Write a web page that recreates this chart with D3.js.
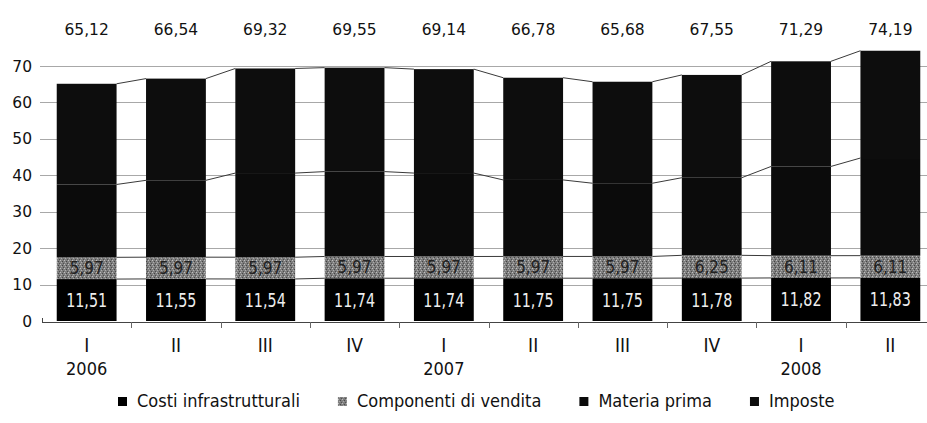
<!DOCTYPE html>
<html>
<head>
<meta charset="utf-8">
<script src="https://cdn.jsdelivr.net/npm/d3@7/dist/d3.min.js"></script>
<style>
  body { margin: 0; background: #fff; }
  svg { display: block; }
  .num { font-family: 'DejaVu Sans', sans-serif; }
  .narrow { font-family: 'DejaVu Sans Condensed', sans-serif; }
</style>
</head>
<body>
<svg id="chart"></svg>
<script>
// quarters and years on the x axis
let quarters = ['I', 'II', 'III', 'IV', 'I', 'II', 'III', 'IV', 'I', 'II']
let years = ['2006', '', '', '', '2007', '', '', '', '2008', '']

// values per quarter
let costi = [11.51, 11.55, 11.54, 11.74, 11.74, 11.75, 11.75, 11.78, 11.82, 11.83]
let componenti = [5.97, 5.97, 5.97, 5.97, 5.97, 5.97, 5.97, 6.25, 6.11, 6.11]
let materia = [20.0, 21.1, 23.1, 23.3, 22.9, 21.0, 20.1, 21.3, 24.5, 26.8]
let imposte = [27.6, 27.9, 28.7, 28.5, 28.5, 28.1, 27.9, 28.3, 28.9, 29.5]
let totals = [65.12, 66.54, 69.32, 69.55, 69.14, 66.78, 65.68, 67.55, 71.29, 74.19]

let seriesNames = ['Costi infrastrutturali', 'Componenti di vendita', 'Materia prima', 'Imposte']
let yTicks = [0, 10, 20, 30, 40, 50, 60, 70]

let width = 927
let height = 423

let svg = d3.select('svg#chart').attr('width', width).attr('height', height)

// grainy grey fill for the selling component
let defs = svg.append('defs')
let pat = defs
  .append('pattern')
  .attr('id', 'grain')
  .attr('width', 4)
  .attr('height', 4)
  .attr('patternUnits', 'userSpaceOnUse')
pat.append('rect').attr('width', 4).attr('height', 4).attr('fill', '#7e7e7e')
pat.append('rect').attr('x', 0).attr('y', 0).attr('width', 1).attr('height', 1).attr('fill', '#c0c0c0')
pat.append('rect').attr('x', 2).attr('y', 1).attr('width', 1).attr('height', 1).attr('fill', '#444')
pat.append('rect').attr('x', 1).attr('y', 2).attr('width', 1).attr('height', 1).attr('fill', '#adadad')
pat.append('rect').attr('x', 3).attr('y', 3).attr('width', 1).attr('height', 1).attr('fill', '#4e4e4e')

let fills = ['#000', 'url(#grain)', '#0b0b0b', '#0d0d0d']

// table for d3.stack
let rows = quarters.map((q, i) => ({
  i: i,
  'Costi infrastrutturali': costi[i],
  'Componenti di vendita': componenti[i],
  'Materia prima': materia[i],
  Imposte: imposte[i],
}))
let stacked = d3.stack().keys(seriesNames)(rows)

let xScale = d3
  .scaleBand()
  .domain(d3.range(quarters.length))
  .range([42, 935])
  .paddingInner(0.33)
  .paddingOuter(0.165)

let yScale = d3.scaleLinear().domain([0, 70]).range([321, 66])

// gridlines
svg
  .append('g')
  .selectAll('line')
  .data(yTicks.filter(d => d > 0))
  .join('line')
  .attr('x1', 40)
  .attr('x2', width)
  .attr('y1', d => Math.round(yScale(d)) + 0.5)
  .attr('y2', d => Math.round(yScale(d)) + 0.5)
  .attr('stroke', '#a8a8a8')
  .attr('stroke-width', 1)

// y tick labels
svg
  .append('g')
  .selectAll('text')
  .data(yTicks)
  .join('text')
  .attr('class', 'num')
  .attr('x', 32)
  .attr('y', d => yScale(d) + 5.5)
  .attr('text-anchor', 'end')
  .attr('font-size', 15.5)
  .attr('fill', '#111')
  .text(d => d)

// connecting lines between neighbouring bars at each stack boundary
let levels = stacked.map(s => s.map(d => d[1]))
levels[3] = totals
let connectors = []
levels.forEach(lv => {
  for (let i = 0; i < lv.length - 1; i++) {
    connectors.push({ i: i, a: lv[i], b: lv[i + 1] })
  }
})
svg
  .append('g')
  .selectAll('line')
  .data(connectors)
  .join('line')
  .attr('x1', d => xScale(d.i) + xScale.bandwidth())
  .attr('x2', d => xScale(d.i + 1))
  .attr('y1', d => yScale(d.a))
  .attr('y2', d => yScale(d.b))
  .attr('stroke', '#3a3a3a')
  .attr('stroke-width', 1)

// the stacked bars
svg
  .append('g')
  .selectAll('g')
  .data(stacked)
  .join('g')
  .attr('fill', (d, k) => fills[k])
  .selectAll('rect')
  .data((s, k) => s.map(d => ({ d: d, k: k })))
  .join('rect')
  .attr('x', e => xScale(e.d.data.i))
  .attr('width', xScale.bandwidth())
  .attr('y', e => (e.k == 3 ? yScale(totals[e.d.data.i]) : yScale(e.d[1])))
  .attr('height', e =>
    e.k == 3 ? yScale(e.d[0]) - yScale(totals[e.d.data.i]) : yScale(e.d[0]) - yScale(e.d[1])
  )

let fmt = v => v.toFixed(2).replace('.', ',')

// labels in the bottom two segments
svg
  .append('g')
  .selectAll('text')
  .data(stacked[0])
  .join('text')
  .attr('class', 'narrow')
  .attr('x', d => xScale(d.data.i) + xScale.bandwidth() / 2)
  .attr('y', d => (yScale(d[0]) + yScale(d[1])) / 2 + 7)
  .attr('text-anchor', 'middle')
  .attr('font-size', 19)
  .attr('textLength', 41)
  .attr('lengthAdjust', 'spacingAndGlyphs')
  .attr('fill', '#eee')
  .text(d => fmt(d[1] - d[0]))

svg
  .append('g')
  .selectAll('text')
  .data(stacked[1])
  .join('text')
  .attr('class', 'narrow')
  .attr('x', d => xScale(d.data.i) + xScale.bandwidth() / 2)
  .attr('y', d => (yScale(d[0]) + yScale(d[1])) / 2 + 6)
  .attr('text-anchor', 'middle')
  .attr('font-size', 17)
  .attr('textLength', 34)
  .attr('lengthAdjust', 'spacingAndGlyphs')
  .attr('fill', '#222')
  .text(d => fmt(d[1] - d[0]))

// totals above the chart
svg
  .append('g')
  .selectAll('text')
  .data(totals)
  .join('text')
  .attr('class', 'num')
  .attr('x', (d, i) => xScale(i) + xScale.bandwidth() / 2)
  .attr('y', 34.5)
  .attr('text-anchor', 'middle')
  .attr('font-size', 15.5)
  .attr('fill', '#111')
  .text(d => fmt(d))

// x axis
let xAxisG = svg.append('g')
xAxisG
  .append('line')
  .attr('x1', 42)
  .attr('x2', width)
  .attr('y1', 322.5)
  .attr('y2', 322.5)
  .attr('stroke', '#444')
xAxisG
  .append('line')
  .attr('x1', 42.5)
  .attr('x2', 42.5)
  .attr('y1', 318)
  .attr('y2', 323)
  .attr('stroke', '#444')
xAxisG
  .selectAll('line.tick')
  .data(d3.range(1, quarters.length))
  .join('line')
  .attr('class', 'tick')
  .attr('x1', i => Math.round(xScale(i) - (xScale.step() - xScale.bandwidth()) / 2) + 0.5)
  .attr('x2', i => Math.round(xScale(i) - (xScale.step() - xScale.bandwidth()) / 2) + 0.5)
  .attr('y1', 322)
  .attr('y2', 328)
  .attr('stroke', '#666')

xAxisG
  .selectAll('text.q')
  .data(quarters)
  .join('text')
  .attr('class', 'q narrow')
  .attr('x', (d, i) => xScale(i) + xScale.bandwidth() / 2)
  .attr('y', 352)
  .attr('text-anchor', 'middle')
  .attr('font-size', 19)
  .attr('fill', '#111')
  .text(d => d)

xAxisG
  .selectAll('text.yr')
  .data(years)
  .join('text')
  .attr('class', 'yr narrow')
  .attr('x', (d, i) => xScale(i) + xScale.bandwidth() / 2)
  .attr('y', 375)
  .attr('text-anchor', 'middle')
  .attr('font-size', 18)
  .attr('fill', '#111')
  .text(d => d)

// legend: entries placed one after another with an even gap
let legend = svg.append('g').attr('transform', 'translate(118,403)')
let cursor = 0
seriesNames.forEach((name, k) => {
  let item = legend.append('g').attr('transform', 'translate(' + cursor + ',0)')
  item
    .append('rect')
    .attr('x', 0)
    .attr('y', -6)
    .attr('width', 9)
    .attr('height', 9)
    .attr('fill', fills[k])
  let t = item
    .append('text')
    .attr('class', 'narrow')
    .attr('x', 19)
    .attr('y', 4)
    .attr('font-size', 18)
    .attr('fill', '#111')
    .text(name)
  cursor += 19 + t.node().getComputedTextLength() + 38
})
</script>
</body>
</html>
